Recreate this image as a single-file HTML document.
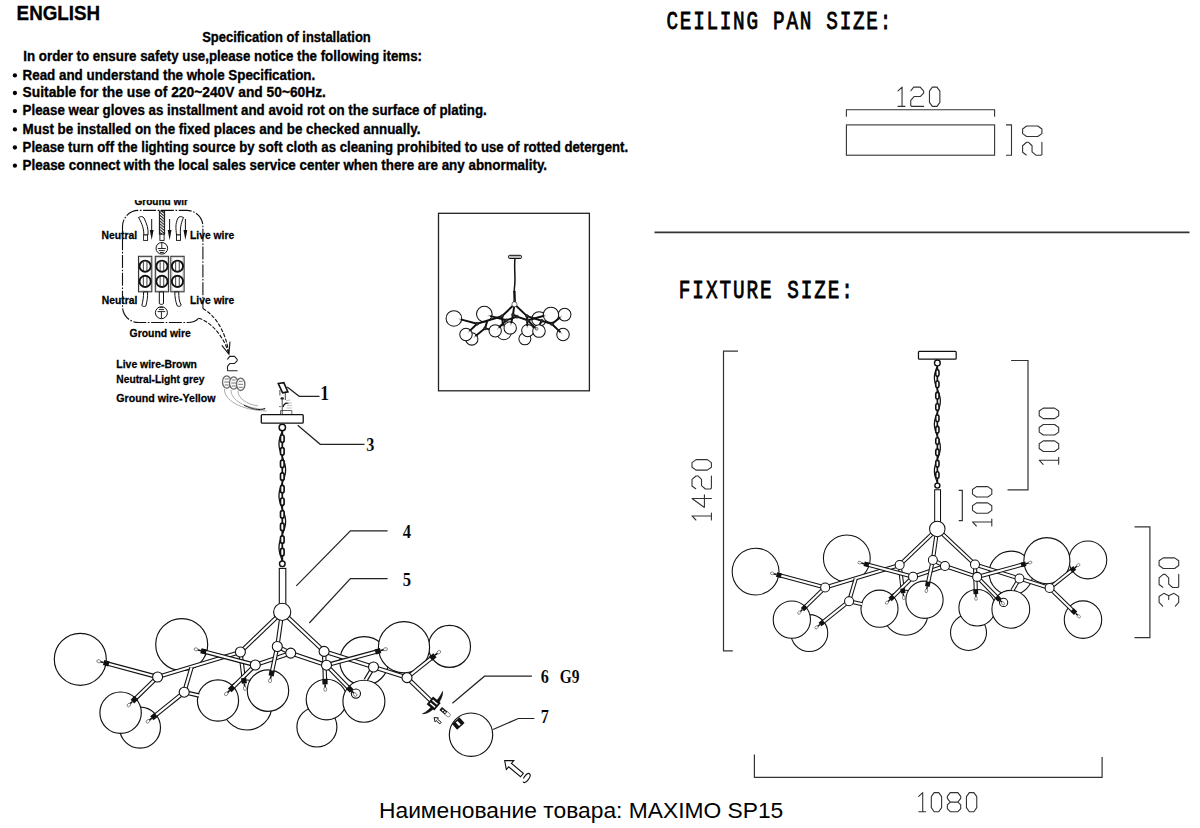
<!DOCTYPE html>
<html><head><meta charset="utf-8"><style>
html,body{margin:0;padding:0;background:#fff;width:1200px;height:828px;overflow:hidden;position:relative}
text{font-family:"Liberation Sans",sans-serif}
</style></head><body>

<svg width="1200" height="828" viewBox="0 0 1200 828" style="position:absolute;left:0;top:0">
<g transform="">
<circle cx="247" cy="705" r="25" fill="#fff" stroke="#111" stroke-width="1.15"/>
<circle cx="364.2" cy="661" r="24.4" fill="#fff" stroke="#111" stroke-width="1.15"/>
<circle cx="140" cy="727.6" r="20.5" fill="#fff" stroke="#111" stroke-width="1.15"/>
<circle cx="316.9" cy="727" r="20" fill="#fff" stroke="#111" stroke-width="1.15"/>
<circle cx="449.5" cy="646.4" r="21" fill="#fff" stroke="#111" stroke-width="1.15"/>
<circle cx="80.3" cy="659.3" r="26" fill="#fff" stroke="#111" stroke-width="1.15"/>
<circle cx="181.7" cy="644.6" r="26" fill="#fff" stroke="#111" stroke-width="1.15"/>
<circle cx="120.6" cy="712.7" r="20.7" fill="#fff" stroke="#111" stroke-width="1.15"/>
<circle cx="218" cy="700.5" r="20.6" fill="#fff" stroke="#111" stroke-width="1.15"/>
<circle cx="268" cy="690.6" r="20.7" fill="#fff" stroke="#111" stroke-width="1.15"/>
<circle cx="404" cy="647.2" r="25.6" fill="#fff" stroke="#111" stroke-width="1.15"/>
<circle cx="326.5" cy="699.5" r="20.3" fill="#fff" stroke="#111" stroke-width="1.15"/>
<circle cx="363.9" cy="701.2" r="21" fill="#fff" stroke="#111" stroke-width="1.15"/>
<line x1="282.2" y1="611.9" x2="240.4" y2="652" stroke="#111" stroke-width="4.4"/>
<line x1="282.2" y1="611.9" x2="240.4" y2="652" stroke="#fff" stroke-width="2.2"/>
<line x1="282.2" y1="611.9" x2="277.3" y2="646.5" stroke="#111" stroke-width="4.4"/>
<line x1="282.2" y1="611.9" x2="277.3" y2="646.5" stroke="#fff" stroke-width="2.2"/>
<line x1="282.2" y1="611.9" x2="324.1" y2="651.4" stroke="#111" stroke-width="4.4"/>
<line x1="282.2" y1="611.9" x2="324.1" y2="651.4" stroke="#fff" stroke-width="2.2"/>
<line x1="240.4" y1="652" x2="157.6" y2="677" stroke="#111" stroke-width="4.4"/>
<line x1="240.4" y1="652" x2="157.6" y2="677" stroke="#fff" stroke-width="2.2"/>
<line x1="157.6" y1="677" x2="106" y2="663.2" stroke="#111" stroke-width="4.4"/>
<line x1="157.6" y1="677" x2="106" y2="663.2" stroke="#fff" stroke-width="2.2"/>
<line x1="157.6" y1="677" x2="134.2" y2="699.8" stroke="#111" stroke-width="4.4"/>
<line x1="157.6" y1="677" x2="134.2" y2="699.8" stroke="#fff" stroke-width="2.2"/>
<line x1="191.5" y1="667.5" x2="184.2" y2="692.2" stroke="#111" stroke-width="4.4"/>
<line x1="191.5" y1="667.5" x2="184.2" y2="692.2" stroke="#fff" stroke-width="2.2"/>
<line x1="184.2" y1="692.2" x2="153.8" y2="716.6" stroke="#111" stroke-width="4.4"/>
<line x1="184.2" y1="692.2" x2="153.8" y2="716.6" stroke="#fff" stroke-width="2.2"/>
<line x1="184.2" y1="692.2" x2="199" y2="695.5" stroke="#111" stroke-width="4.4"/>
<line x1="184.2" y1="692.2" x2="199" y2="695.5" stroke="#fff" stroke-width="2.2"/>
<line x1="240.4" y1="652" x2="244" y2="681" stroke="#111" stroke-width="4.4"/>
<line x1="240.4" y1="652" x2="244" y2="681" stroke="#fff" stroke-width="2.2"/>
<line x1="203.3" y1="651.3" x2="255.3" y2="665" stroke="#111" stroke-width="4.4"/>
<line x1="203.3" y1="651.3" x2="255.3" y2="665" stroke="#fff" stroke-width="2.2"/>
<line x1="255.3" y1="665" x2="231.5" y2="688.6" stroke="#111" stroke-width="4.4"/>
<line x1="255.3" y1="665" x2="231.5" y2="688.6" stroke="#fff" stroke-width="2.2"/>
<line x1="255.3" y1="665" x2="290.7" y2="653.1" stroke="#111" stroke-width="4.4"/>
<line x1="255.3" y1="665" x2="290.7" y2="653.1" stroke="#fff" stroke-width="2.2"/>
<line x1="277.3" y1="646.5" x2="290.7" y2="653.1" stroke="#111" stroke-width="4.4"/>
<line x1="277.3" y1="646.5" x2="290.7" y2="653.1" stroke="#fff" stroke-width="2.2"/>
<line x1="277.3" y1="646.5" x2="271.6" y2="673.4" stroke="#111" stroke-width="4.4"/>
<line x1="277.3" y1="646.5" x2="271.6" y2="673.4" stroke="#fff" stroke-width="2.2"/>
<line x1="290.7" y1="653.1" x2="326.5" y2="665.2" stroke="#111" stroke-width="4.4"/>
<line x1="290.7" y1="653.1" x2="326.5" y2="665.2" stroke="#fff" stroke-width="2.2"/>
<line x1="324.1" y1="651.4" x2="407" y2="677.6" stroke="#111" stroke-width="4.4"/>
<line x1="324.1" y1="651.4" x2="407" y2="677.6" stroke="#fff" stroke-width="2.2"/>
<line x1="324.1" y1="651.4" x2="325" y2="681.8" stroke="#111" stroke-width="4.4"/>
<line x1="324.1" y1="651.4" x2="325" y2="681.8" stroke="#fff" stroke-width="2.2"/>
<line x1="326.5" y1="665.2" x2="378.2" y2="651.2" stroke="#111" stroke-width="4.4"/>
<line x1="326.5" y1="665.2" x2="378.2" y2="651.2" stroke="#fff" stroke-width="2.2"/>
<line x1="326.5" y1="665.2" x2="349.9" y2="689.2" stroke="#111" stroke-width="4.4"/>
<line x1="326.5" y1="665.2" x2="349.9" y2="689.2" stroke="#fff" stroke-width="2.2"/>
<line x1="373.5" y1="667" x2="365.7" y2="680" stroke="#111" stroke-width="4.4"/>
<line x1="373.5" y1="667" x2="365.7" y2="680" stroke="#fff" stroke-width="2.2"/>
<line x1="407" y1="677.6" x2="433" y2="656.8" stroke="#111" stroke-width="4.4"/>
<line x1="407" y1="677.6" x2="433" y2="656.8" stroke="#fff" stroke-width="2.2"/>
<line x1="407" y1="677.6" x2="434.1" y2="703.9" stroke="#111" stroke-width="4.4"/>
<line x1="407" y1="677.6" x2="434.1" y2="703.9" stroke="#fff" stroke-width="2.2"/>
<circle cx="157.6" cy="677" r="5" fill="#fff" stroke="#111" stroke-width="1.1"/>
<circle cx="184.2" cy="692.2" r="5" fill="#fff" stroke="#111" stroke-width="1.1"/>
<circle cx="240.4" cy="652" r="5" fill="#fff" stroke="#111" stroke-width="1.1"/>
<circle cx="277.3" cy="646.5" r="5" fill="#fff" stroke="#111" stroke-width="1.1"/>
<circle cx="290.7" cy="653.1" r="5" fill="#fff" stroke="#111" stroke-width="1.1"/>
<circle cx="255.3" cy="665" r="5" fill="#fff" stroke="#111" stroke-width="1.1"/>
<circle cx="324.1" cy="651.4" r="5" fill="#fff" stroke="#111" stroke-width="1.1"/>
<circle cx="326.5" cy="665.2" r="5" fill="#fff" stroke="#111" stroke-width="1.1"/>
<circle cx="373.5" cy="667" r="5" fill="#fff" stroke="#111" stroke-width="1.1"/>
<circle cx="407" cy="677.6" r="5" fill="#fff" stroke="#111" stroke-width="1.1"/>
<g transform="translate(106 663.2) rotate(-165.03)">
<rect x="-3" y="-2.6" width="5.5" height="5.2" fill="#111"/>
<line x1="2.5" y1="0" x2="6" y2="0" stroke="#111" stroke-width="1.6"/>
<ellipse cx="7.5" cy="0" rx="2" ry="1.5" fill="#fff" stroke="#555" stroke-width="0.7"/>
</g>
<g transform="translate(203.3 651.3) rotate(-165.24)">
<rect x="-3" y="-2.6" width="5.5" height="5.2" fill="#111"/>
<line x1="2.5" y1="0" x2="6" y2="0" stroke="#111" stroke-width="1.6"/>
<ellipse cx="7.5" cy="0" rx="2" ry="1.5" fill="#fff" stroke="#555" stroke-width="0.7"/>
</g>
<g transform="translate(134.2 699.8) rotate(135.74)">
<rect x="-3" y="-2.6" width="5.5" height="5.2" fill="#111"/>
<line x1="2.5" y1="0" x2="6" y2="0" stroke="#111" stroke-width="1.6"/>
<ellipse cx="7.5" cy="0" rx="2" ry="1.5" fill="#fff" stroke="#555" stroke-width="0.7"/>
</g>
<g transform="translate(153.8 716.6) rotate(141.25)">
<rect x="-3" y="-2.6" width="5.5" height="5.2" fill="#111"/>
<line x1="2.5" y1="0" x2="6" y2="0" stroke="#111" stroke-width="1.6"/>
<ellipse cx="7.5" cy="0" rx="2" ry="1.5" fill="#fff" stroke="#555" stroke-width="0.7"/>
</g>
<g transform="translate(231.5 688.6) rotate(135.24)">
<rect x="-3" y="-2.6" width="5.5" height="5.2" fill="#111"/>
<line x1="2.5" y1="0" x2="6" y2="0" stroke="#111" stroke-width="1.6"/>
<ellipse cx="7.5" cy="0" rx="2" ry="1.5" fill="#fff" stroke="#555" stroke-width="0.7"/>
</g>
<g transform="translate(244 681) rotate(82.92)">
<rect x="-3" y="-2.6" width="5.5" height="5.2" fill="#111"/>
<line x1="2.5" y1="0" x2="6" y2="0" stroke="#111" stroke-width="1.6"/>
<ellipse cx="7.5" cy="0" rx="2" ry="1.5" fill="#fff" stroke="#555" stroke-width="0.7"/>
</g>
<g transform="translate(271.6 673.4) rotate(101.96)">
<rect x="-3" y="-2.6" width="5.5" height="5.2" fill="#111"/>
<line x1="2.5" y1="0" x2="6" y2="0" stroke="#111" stroke-width="1.6"/>
<ellipse cx="7.5" cy="0" rx="2" ry="1.5" fill="#fff" stroke="#555" stroke-width="0.7"/>
</g>
<g transform="translate(378.2 651.2) rotate(-15.15)">
<rect x="-3" y="-2.6" width="5.5" height="5.2" fill="#111"/>
<line x1="2.5" y1="0" x2="6" y2="0" stroke="#111" stroke-width="1.6"/>
<ellipse cx="7.5" cy="0" rx="2" ry="1.5" fill="#fff" stroke="#555" stroke-width="0.7"/>
</g>
<g transform="translate(433 656.8) rotate(-38.66)">
<rect x="-3" y="-2.6" width="5.5" height="5.2" fill="#111"/>
<line x1="2.5" y1="0" x2="6" y2="0" stroke="#111" stroke-width="1.6"/>
<ellipse cx="7.5" cy="0" rx="2" ry="1.5" fill="#fff" stroke="#555" stroke-width="0.7"/>
</g>
<g transform="translate(325 681.8) rotate(88.3)">
<rect x="-3" y="-2.6" width="5.5" height="5.2" fill="#111"/>
<line x1="2.5" y1="0" x2="6" y2="0" stroke="#111" stroke-width="1.6"/>
<ellipse cx="7.5" cy="0" rx="2" ry="1.5" fill="#fff" stroke="#555" stroke-width="0.7"/>
</g>
<g transform="translate(349.9 689.2) rotate(45.73)">
<rect x="-3" y="-2.6" width="5.5" height="5.2" fill="#111"/>
<line x1="2.5" y1="0" x2="6" y2="0" stroke="#111" stroke-width="1.6"/>
<ellipse cx="7.5" cy="0" rx="2" ry="1.5" fill="#fff" stroke="#555" stroke-width="0.7"/>
</g>
<circle cx="355.9" cy="693.6" r="4.6" fill="none" stroke="#111" stroke-width="1.1"/>
<rect x="279.3" y="568.4" width="6.5" height="36" fill="#fff" stroke="#111" stroke-width="1.1"/>
<circle cx="282.2" cy="611.9" r="8.6" fill="#fff" stroke="#111" stroke-width="1.1"/>
<path d="M282.3 431 L281.66 432.62 L281.04 434.24 L280.47 435.85 L279.97 437.47 L279.56 439.09 L279.25 440.7 L279.06 442.32 L279 443.94 L279.06 445.56 L279.25 447.18 L279.56 448.79 L279.97 450.41 L280.47 452.03 L281.04 453.64 L281.66 455.26 L282.3 456.88 L282.94 458.5 L283.56 460.12 L284.13 461.73 L284.63 463.35 L285.04 464.97 L285.35 466.58 L285.54 468.2 L285.6 469.82 L285.54 471.44 L285.35 473.06 L285.04 474.67 L284.63 476.29 L284.13 477.91 L283.56 479.52 L282.94 481.14 L282.3 482.76 L281.66 484.38 L281.04 486 L280.47 487.61 L279.97 489.23 L279.56 490.85 L279.25 492.46 L279.06 494.08 L279 495.7 L279.06 497.32 L279.25 498.94 L279.56 500.55 L279.97 502.17 L280.47 503.79 L281.04 505.4 L281.66 507.02 L282.3 508.64 L282.94 510.26 L283.56 511.88 L284.13 513.49 L284.63 515.11 L285.04 516.73 L285.35 518.35 L285.54 519.96 L285.6 521.58 L285.54 523.2 L285.35 524.81 L285.04 526.43 L284.63 528.05 L284.13 529.67 L283.56 531.28 L282.94 532.9 L282.3 534.52 L281.66 536.14 L281.04 537.75 L280.47 539.37 L279.97 540.99 L279.56 542.61 L279.25 544.23 L279.06 545.84 L279 547.46 L279.06 549.08 L279.25 550.69 L279.56 552.31 L279.97 553.93 L280.47 555.55 L281.04 557.16 L281.66 558.78 L282.3 560.4" fill="none" stroke="#111" stroke-width="1.3"/>
<line x1="282.3" y1="427" x2="282.3" y2="564.4" stroke="#111" stroke-width="1.74"/>
<circle cx="282.3" cy="427.5" r="3.2" fill="#fff" stroke="#111" stroke-width="1.45"/>
<circle cx="282.3" cy="563.8" r="2.8" fill="#fff" stroke="#111" stroke-width="1.45"/>
<rect x="280.5" y="435" width="3.6" height="7.4" rx="1.8" fill="#fff" stroke="#111" stroke-width="1.67"/>
<rect x="280.5" y="447.6" width="3.6" height="7.4" rx="1.8" fill="#fff" stroke="#111" stroke-width="1.67"/>
<rect x="280.5" y="460.2" width="3.6" height="7.4" rx="1.8" fill="#fff" stroke="#111" stroke-width="1.67"/>
<rect x="280.5" y="472.8" width="3.6" height="7.4" rx="1.8" fill="#fff" stroke="#111" stroke-width="1.67"/>
<rect x="280.5" y="485.4" width="3.6" height="7.4" rx="1.8" fill="#fff" stroke="#111" stroke-width="1.67"/>
<rect x="280.5" y="498" width="3.6" height="7.4" rx="1.8" fill="#fff" stroke="#111" stroke-width="1.67"/>
<rect x="280.5" y="510.6" width="3.6" height="7.4" rx="1.8" fill="#fff" stroke="#111" stroke-width="1.67"/>
<rect x="280.5" y="523.2" width="3.6" height="7.4" rx="1.8" fill="#fff" stroke="#111" stroke-width="1.67"/>
<rect x="280.5" y="535.8" width="3.6" height="7.4" rx="1.8" fill="#fff" stroke="#111" stroke-width="1.67"/>
<rect x="280.5" y="548.4" width="3.6" height="7.4" rx="1.8" fill="#fff" stroke="#111" stroke-width="1.67"/>
<rect x="261.3" y="414.6" width="41.9" height="8.6" rx="1" fill="#fff" stroke="#111" stroke-width="1.32"/>
</g>
<g transform="translate(683.3 -21.8) scale(0.9)">
<circle cx="247" cy="705" r="25" fill="#fff" stroke="#111" stroke-width="1.2"/>
<circle cx="364.2" cy="661" r="24.4" fill="#fff" stroke="#111" stroke-width="1.2"/>
<circle cx="140" cy="727.6" r="20.5" fill="#fff" stroke="#111" stroke-width="1.2"/>
<circle cx="316.9" cy="727" r="20" fill="#fff" stroke="#111" stroke-width="1.2"/>
<circle cx="449.5" cy="646.4" r="21" fill="#fff" stroke="#111" stroke-width="1.2"/>
<circle cx="444.1" cy="712.7" r="20.8" fill="#fff" stroke="#111" stroke-width="1.2"/>
<circle cx="80.3" cy="659.3" r="26" fill="#fff" stroke="#111" stroke-width="1.2"/>
<circle cx="181.7" cy="644.6" r="26" fill="#fff" stroke="#111" stroke-width="1.2"/>
<circle cx="120.6" cy="712.7" r="20.7" fill="#fff" stroke="#111" stroke-width="1.2"/>
<circle cx="218" cy="700.5" r="20.6" fill="#fff" stroke="#111" stroke-width="1.2"/>
<circle cx="268" cy="690.6" r="20.7" fill="#fff" stroke="#111" stroke-width="1.2"/>
<circle cx="404" cy="647.2" r="25.6" fill="#fff" stroke="#111" stroke-width="1.2"/>
<circle cx="326.5" cy="699.5" r="20.3" fill="#fff" stroke="#111" stroke-width="1.2"/>
<circle cx="363.9" cy="701.2" r="21" fill="#fff" stroke="#111" stroke-width="1.2"/>
<line x1="282.2" y1="611.9" x2="240.4" y2="652" stroke="#111" stroke-width="4.6"/>
<line x1="282.2" y1="611.9" x2="240.4" y2="652" stroke="#fff" stroke-width="2.3"/>
<line x1="282.2" y1="611.9" x2="277.3" y2="646.5" stroke="#111" stroke-width="4.6"/>
<line x1="282.2" y1="611.9" x2="277.3" y2="646.5" stroke="#fff" stroke-width="2.3"/>
<line x1="282.2" y1="611.9" x2="324.1" y2="651.4" stroke="#111" stroke-width="4.6"/>
<line x1="282.2" y1="611.9" x2="324.1" y2="651.4" stroke="#fff" stroke-width="2.3"/>
<line x1="240.4" y1="652" x2="157.6" y2="677" stroke="#111" stroke-width="4.6"/>
<line x1="240.4" y1="652" x2="157.6" y2="677" stroke="#fff" stroke-width="2.3"/>
<line x1="157.6" y1="677" x2="106" y2="663.2" stroke="#111" stroke-width="4.6"/>
<line x1="157.6" y1="677" x2="106" y2="663.2" stroke="#fff" stroke-width="2.3"/>
<line x1="157.6" y1="677" x2="134.2" y2="699.8" stroke="#111" stroke-width="4.6"/>
<line x1="157.6" y1="677" x2="134.2" y2="699.8" stroke="#fff" stroke-width="2.3"/>
<line x1="191.5" y1="667.5" x2="184.2" y2="692.2" stroke="#111" stroke-width="4.6"/>
<line x1="191.5" y1="667.5" x2="184.2" y2="692.2" stroke="#fff" stroke-width="2.3"/>
<line x1="184.2" y1="692.2" x2="153.8" y2="716.6" stroke="#111" stroke-width="4.6"/>
<line x1="184.2" y1="692.2" x2="153.8" y2="716.6" stroke="#fff" stroke-width="2.3"/>
<line x1="184.2" y1="692.2" x2="199" y2="695.5" stroke="#111" stroke-width="4.6"/>
<line x1="184.2" y1="692.2" x2="199" y2="695.5" stroke="#fff" stroke-width="2.3"/>
<line x1="240.4" y1="652" x2="244" y2="681" stroke="#111" stroke-width="4.6"/>
<line x1="240.4" y1="652" x2="244" y2="681" stroke="#fff" stroke-width="2.3"/>
<line x1="203.3" y1="651.3" x2="255.3" y2="665" stroke="#111" stroke-width="4.6"/>
<line x1="203.3" y1="651.3" x2="255.3" y2="665" stroke="#fff" stroke-width="2.3"/>
<line x1="255.3" y1="665" x2="231.5" y2="688.6" stroke="#111" stroke-width="4.6"/>
<line x1="255.3" y1="665" x2="231.5" y2="688.6" stroke="#fff" stroke-width="2.3"/>
<line x1="255.3" y1="665" x2="290.7" y2="653.1" stroke="#111" stroke-width="4.6"/>
<line x1="255.3" y1="665" x2="290.7" y2="653.1" stroke="#fff" stroke-width="2.3"/>
<line x1="277.3" y1="646.5" x2="290.7" y2="653.1" stroke="#111" stroke-width="4.6"/>
<line x1="277.3" y1="646.5" x2="290.7" y2="653.1" stroke="#fff" stroke-width="2.3"/>
<line x1="277.3" y1="646.5" x2="271.6" y2="673.4" stroke="#111" stroke-width="4.6"/>
<line x1="277.3" y1="646.5" x2="271.6" y2="673.4" stroke="#fff" stroke-width="2.3"/>
<line x1="290.7" y1="653.1" x2="326.5" y2="665.2" stroke="#111" stroke-width="4.6"/>
<line x1="290.7" y1="653.1" x2="326.5" y2="665.2" stroke="#fff" stroke-width="2.3"/>
<line x1="324.1" y1="651.4" x2="407" y2="677.6" stroke="#111" stroke-width="4.6"/>
<line x1="324.1" y1="651.4" x2="407" y2="677.6" stroke="#fff" stroke-width="2.3"/>
<line x1="324.1" y1="651.4" x2="325" y2="681.8" stroke="#111" stroke-width="4.6"/>
<line x1="324.1" y1="651.4" x2="325" y2="681.8" stroke="#fff" stroke-width="2.3"/>
<line x1="326.5" y1="665.2" x2="378.2" y2="651.2" stroke="#111" stroke-width="4.6"/>
<line x1="326.5" y1="665.2" x2="378.2" y2="651.2" stroke="#fff" stroke-width="2.3"/>
<line x1="326.5" y1="665.2" x2="349.9" y2="689.2" stroke="#111" stroke-width="4.6"/>
<line x1="326.5" y1="665.2" x2="349.9" y2="689.2" stroke="#fff" stroke-width="2.3"/>
<line x1="373.5" y1="667" x2="365.7" y2="680" stroke="#111" stroke-width="4.6"/>
<line x1="373.5" y1="667" x2="365.7" y2="680" stroke="#fff" stroke-width="2.3"/>
<line x1="407" y1="677.6" x2="433" y2="656.8" stroke="#111" stroke-width="4.6"/>
<line x1="407" y1="677.6" x2="433" y2="656.8" stroke="#fff" stroke-width="2.3"/>
<line x1="407" y1="677.6" x2="434.1" y2="703.9" stroke="#111" stroke-width="4.6"/>
<line x1="407" y1="677.6" x2="434.1" y2="703.9" stroke="#fff" stroke-width="2.3"/>
<circle cx="157.6" cy="677" r="5" fill="#fff" stroke="#111" stroke-width="1.15"/>
<circle cx="184.2" cy="692.2" r="5" fill="#fff" stroke="#111" stroke-width="1.15"/>
<circle cx="240.4" cy="652" r="5" fill="#fff" stroke="#111" stroke-width="1.15"/>
<circle cx="277.3" cy="646.5" r="5" fill="#fff" stroke="#111" stroke-width="1.15"/>
<circle cx="290.7" cy="653.1" r="5" fill="#fff" stroke="#111" stroke-width="1.15"/>
<circle cx="255.3" cy="665" r="5" fill="#fff" stroke="#111" stroke-width="1.15"/>
<circle cx="324.1" cy="651.4" r="5" fill="#fff" stroke="#111" stroke-width="1.15"/>
<circle cx="326.5" cy="665.2" r="5" fill="#fff" stroke="#111" stroke-width="1.15"/>
<circle cx="373.5" cy="667" r="5" fill="#fff" stroke="#111" stroke-width="1.15"/>
<circle cx="407" cy="677.6" r="5" fill="#fff" stroke="#111" stroke-width="1.15"/>
<g transform="translate(106 663.2) rotate(-165.03)">
<rect x="-3" y="-2.6" width="5.5" height="5.2" fill="#111"/>
<line x1="2.5" y1="0" x2="6" y2="0" stroke="#111" stroke-width="1.6"/>
<ellipse cx="7.5" cy="0" rx="2" ry="1.5" fill="#fff" stroke="#555" stroke-width="0.7"/>
</g>
<g transform="translate(203.3 651.3) rotate(-165.24)">
<rect x="-3" y="-2.6" width="5.5" height="5.2" fill="#111"/>
<line x1="2.5" y1="0" x2="6" y2="0" stroke="#111" stroke-width="1.6"/>
<ellipse cx="7.5" cy="0" rx="2" ry="1.5" fill="#fff" stroke="#555" stroke-width="0.7"/>
</g>
<g transform="translate(134.2 699.8) rotate(135.74)">
<rect x="-3" y="-2.6" width="5.5" height="5.2" fill="#111"/>
<line x1="2.5" y1="0" x2="6" y2="0" stroke="#111" stroke-width="1.6"/>
<ellipse cx="7.5" cy="0" rx="2" ry="1.5" fill="#fff" stroke="#555" stroke-width="0.7"/>
</g>
<g transform="translate(153.8 716.6) rotate(141.25)">
<rect x="-3" y="-2.6" width="5.5" height="5.2" fill="#111"/>
<line x1="2.5" y1="0" x2="6" y2="0" stroke="#111" stroke-width="1.6"/>
<ellipse cx="7.5" cy="0" rx="2" ry="1.5" fill="#fff" stroke="#555" stroke-width="0.7"/>
</g>
<g transform="translate(231.5 688.6) rotate(135.24)">
<rect x="-3" y="-2.6" width="5.5" height="5.2" fill="#111"/>
<line x1="2.5" y1="0" x2="6" y2="0" stroke="#111" stroke-width="1.6"/>
<ellipse cx="7.5" cy="0" rx="2" ry="1.5" fill="#fff" stroke="#555" stroke-width="0.7"/>
</g>
<g transform="translate(244 681) rotate(82.92)">
<rect x="-3" y="-2.6" width="5.5" height="5.2" fill="#111"/>
<line x1="2.5" y1="0" x2="6" y2="0" stroke="#111" stroke-width="1.6"/>
<ellipse cx="7.5" cy="0" rx="2" ry="1.5" fill="#fff" stroke="#555" stroke-width="0.7"/>
</g>
<g transform="translate(271.6 673.4) rotate(101.96)">
<rect x="-3" y="-2.6" width="5.5" height="5.2" fill="#111"/>
<line x1="2.5" y1="0" x2="6" y2="0" stroke="#111" stroke-width="1.6"/>
<ellipse cx="7.5" cy="0" rx="2" ry="1.5" fill="#fff" stroke="#555" stroke-width="0.7"/>
</g>
<g transform="translate(378.2 651.2) rotate(-15.15)">
<rect x="-3" y="-2.6" width="5.5" height="5.2" fill="#111"/>
<line x1="2.5" y1="0" x2="6" y2="0" stroke="#111" stroke-width="1.6"/>
<ellipse cx="7.5" cy="0" rx="2" ry="1.5" fill="#fff" stroke="#555" stroke-width="0.7"/>
</g>
<g transform="translate(433 656.8) rotate(-38.66)">
<rect x="-3" y="-2.6" width="5.5" height="5.2" fill="#111"/>
<line x1="2.5" y1="0" x2="6" y2="0" stroke="#111" stroke-width="1.6"/>
<ellipse cx="7.5" cy="0" rx="2" ry="1.5" fill="#fff" stroke="#555" stroke-width="0.7"/>
</g>
<g transform="translate(325 681.8) rotate(88.3)">
<rect x="-3" y="-2.6" width="5.5" height="5.2" fill="#111"/>
<line x1="2.5" y1="0" x2="6" y2="0" stroke="#111" stroke-width="1.6"/>
<ellipse cx="7.5" cy="0" rx="2" ry="1.5" fill="#fff" stroke="#555" stroke-width="0.7"/>
</g>
<g transform="translate(349.9 689.2) rotate(45.73)">
<rect x="-3" y="-2.6" width="5.5" height="5.2" fill="#111"/>
<line x1="2.5" y1="0" x2="6" y2="0" stroke="#111" stroke-width="1.6"/>
<ellipse cx="7.5" cy="0" rx="2" ry="1.5" fill="#fff" stroke="#555" stroke-width="0.7"/>
</g>
<g transform="translate(434.1 703.9) rotate(44.14)">
<rect x="-3" y="-2.6" width="5.5" height="5.2" fill="#111"/>
<line x1="2.5" y1="0" x2="6" y2="0" stroke="#111" stroke-width="1.6"/>
<ellipse cx="7.5" cy="0" rx="2" ry="1.5" fill="#fff" stroke="#555" stroke-width="0.7"/>
</g>
<circle cx="355.9" cy="693.6" r="4.6" fill="none" stroke="#111" stroke-width="1.15"/>
<rect x="279.3" y="568.4" width="6.5" height="36" fill="#fff" stroke="#111" stroke-width="1.15"/>
<circle cx="282.2" cy="611.9" r="8.6" fill="#fff" stroke="#111" stroke-width="1.15"/>
<path d="M282.3 431 L281.66 432.62 L281.04 434.24 L280.47 435.85 L279.97 437.47 L279.56 439.09 L279.25 440.7 L279.06 442.32 L279 443.94 L279.06 445.56 L279.25 447.18 L279.56 448.79 L279.97 450.41 L280.47 452.03 L281.04 453.64 L281.66 455.26 L282.3 456.88 L282.94 458.5 L283.56 460.12 L284.13 461.73 L284.63 463.35 L285.04 464.97 L285.35 466.58 L285.54 468.2 L285.6 469.82 L285.54 471.44 L285.35 473.06 L285.04 474.67 L284.63 476.29 L284.13 477.91 L283.56 479.52 L282.94 481.14 L282.3 482.76 L281.66 484.38 L281.04 486 L280.47 487.61 L279.97 489.23 L279.56 490.85 L279.25 492.46 L279.06 494.08 L279 495.7 L279.06 497.32 L279.25 498.94 L279.56 500.55 L279.97 502.17 L280.47 503.79 L281.04 505.4 L281.66 507.02 L282.3 508.64 L282.94 510.26 L283.56 511.88 L284.13 513.49 L284.63 515.11 L285.04 516.73 L285.35 518.35 L285.54 519.96 L285.6 521.58 L285.54 523.2 L285.35 524.81 L285.04 526.43 L284.63 528.05 L284.13 529.67 L283.56 531.28 L282.94 532.9 L282.3 534.52 L281.66 536.14 L281.04 537.75 L280.47 539.37 L279.97 540.99 L279.56 542.61 L279.25 544.23 L279.06 545.84 L279 547.46 L279.06 549.08 L279.25 550.69 L279.56 552.31 L279.97 553.93 L280.47 555.55 L281.04 557.16 L281.66 558.78 L282.3 560.4" fill="none" stroke="#111" stroke-width="1.4"/>
<line x1="282.3" y1="427" x2="282.3" y2="564.4" stroke="#111" stroke-width="1.86"/>
<circle cx="282.3" cy="427.5" r="3.2" fill="#fff" stroke="#111" stroke-width="1.55"/>
<circle cx="282.3" cy="563.8" r="2.8" fill="#fff" stroke="#111" stroke-width="1.55"/>
<rect x="280.5" y="435" width="3.6" height="7.4" rx="1.8" fill="#fff" stroke="#111" stroke-width="1.78"/>
<rect x="280.5" y="447.6" width="3.6" height="7.4" rx="1.8" fill="#fff" stroke="#111" stroke-width="1.78"/>
<rect x="280.5" y="460.2" width="3.6" height="7.4" rx="1.8" fill="#fff" stroke="#111" stroke-width="1.78"/>
<rect x="280.5" y="472.8" width="3.6" height="7.4" rx="1.8" fill="#fff" stroke="#111" stroke-width="1.78"/>
<rect x="280.5" y="485.4" width="3.6" height="7.4" rx="1.8" fill="#fff" stroke="#111" stroke-width="1.78"/>
<rect x="280.5" y="498" width="3.6" height="7.4" rx="1.8" fill="#fff" stroke="#111" stroke-width="1.78"/>
<rect x="280.5" y="510.6" width="3.6" height="7.4" rx="1.8" fill="#fff" stroke="#111" stroke-width="1.78"/>
<rect x="280.5" y="523.2" width="3.6" height="7.4" rx="1.8" fill="#fff" stroke="#111" stroke-width="1.78"/>
<rect x="280.5" y="535.8" width="3.6" height="7.4" rx="1.8" fill="#fff" stroke="#111" stroke-width="1.78"/>
<rect x="280.5" y="548.4" width="3.6" height="7.4" rx="1.8" fill="#fff" stroke="#111" stroke-width="1.78"/>
<rect x="261.3" y="414.6" width="41.9" height="8.6" rx="1" fill="#fff" stroke="#111" stroke-width="1.38"/>
</g>
<g transform="translate(429.8 120.7) scale(0.3)"><g transform="">
<circle cx="247" cy="705" r="25" fill="#fff" stroke="#111" stroke-width="3.4"/>
<circle cx="364.2" cy="661" r="24.4" fill="#fff" stroke="#111" stroke-width="3.4"/>
<circle cx="140" cy="727.6" r="20.5" fill="#fff" stroke="#111" stroke-width="3.4"/>
<circle cx="316.9" cy="727" r="20" fill="#fff" stroke="#111" stroke-width="3.4"/>
<circle cx="449.5" cy="646.4" r="21" fill="#fff" stroke="#111" stroke-width="3.4"/>
<circle cx="444.1" cy="712.7" r="20.8" fill="#fff" stroke="#111" stroke-width="3.4"/>
<circle cx="80.3" cy="659.3" r="26" fill="#fff" stroke="#111" stroke-width="3.4"/>
<circle cx="181.7" cy="644.6" r="26" fill="#fff" stroke="#111" stroke-width="3.4"/>
<circle cx="120.6" cy="712.7" r="20.7" fill="#fff" stroke="#111" stroke-width="3.4"/>
<circle cx="218" cy="700.5" r="20.6" fill="#fff" stroke="#111" stroke-width="3.4"/>
<circle cx="268" cy="690.6" r="20.7" fill="#fff" stroke="#111" stroke-width="3.4"/>
<circle cx="404" cy="647.2" r="25.6" fill="#fff" stroke="#111" stroke-width="3.4"/>
<circle cx="326.5" cy="699.5" r="20.3" fill="#fff" stroke="#111" stroke-width="3.4"/>
<circle cx="363.9" cy="701.2" r="21" fill="#fff" stroke="#111" stroke-width="3.4"/>
<line x1="282.2" y1="611.9" x2="240.4" y2="652" stroke="#111" stroke-width="6.5"/>
<line x1="282.2" y1="611.9" x2="277.3" y2="646.5" stroke="#111" stroke-width="6.5"/>
<line x1="282.2" y1="611.9" x2="324.1" y2="651.4" stroke="#111" stroke-width="6.5"/>
<line x1="240.4" y1="652" x2="157.6" y2="677" stroke="#111" stroke-width="6.5"/>
<line x1="157.6" y1="677" x2="106" y2="663.2" stroke="#111" stroke-width="6.5"/>
<line x1="157.6" y1="677" x2="134.2" y2="699.8" stroke="#111" stroke-width="6.5"/>
<line x1="191.5" y1="667.5" x2="184.2" y2="692.2" stroke="#111" stroke-width="6.5"/>
<line x1="184.2" y1="692.2" x2="153.8" y2="716.6" stroke="#111" stroke-width="6.5"/>
<line x1="184.2" y1="692.2" x2="199" y2="695.5" stroke="#111" stroke-width="6.5"/>
<line x1="240.4" y1="652" x2="244" y2="681" stroke="#111" stroke-width="6.5"/>
<line x1="203.3" y1="651.3" x2="255.3" y2="665" stroke="#111" stroke-width="6.5"/>
<line x1="255.3" y1="665" x2="231.5" y2="688.6" stroke="#111" stroke-width="6.5"/>
<line x1="255.3" y1="665" x2="290.7" y2="653.1" stroke="#111" stroke-width="6.5"/>
<line x1="277.3" y1="646.5" x2="290.7" y2="653.1" stroke="#111" stroke-width="6.5"/>
<line x1="277.3" y1="646.5" x2="271.6" y2="673.4" stroke="#111" stroke-width="6.5"/>
<line x1="290.7" y1="653.1" x2="326.5" y2="665.2" stroke="#111" stroke-width="6.5"/>
<line x1="324.1" y1="651.4" x2="407" y2="677.6" stroke="#111" stroke-width="6.5"/>
<line x1="324.1" y1="651.4" x2="325" y2="681.8" stroke="#111" stroke-width="6.5"/>
<line x1="326.5" y1="665.2" x2="378.2" y2="651.2" stroke="#111" stroke-width="6.5"/>
<line x1="326.5" y1="665.2" x2="349.9" y2="689.2" stroke="#111" stroke-width="6.5"/>
<line x1="373.5" y1="667" x2="365.7" y2="680" stroke="#111" stroke-width="6.5"/>
<line x1="407" y1="677.6" x2="433" y2="656.8" stroke="#111" stroke-width="6.5"/>
<line x1="407" y1="677.6" x2="434.1" y2="703.9" stroke="#111" stroke-width="6.5"/>
<circle cx="157.6" cy="677" r="5" fill="#333" stroke="#111" stroke-width="2"/>
<circle cx="184.2" cy="692.2" r="5" fill="#333" stroke="#111" stroke-width="2"/>
<circle cx="240.4" cy="652" r="5" fill="#333" stroke="#111" stroke-width="2"/>
<circle cx="277.3" cy="646.5" r="5" fill="#333" stroke="#111" stroke-width="2"/>
<circle cx="290.7" cy="653.1" r="5" fill="#333" stroke="#111" stroke-width="2"/>
<circle cx="255.3" cy="665" r="5" fill="#333" stroke="#111" stroke-width="2"/>
<circle cx="324.1" cy="651.4" r="5" fill="#333" stroke="#111" stroke-width="2"/>
<circle cx="326.5" cy="665.2" r="5" fill="#333" stroke="#111" stroke-width="2"/>
<circle cx="373.5" cy="667" r="5" fill="#333" stroke="#111" stroke-width="2"/>
<circle cx="407" cy="677.6" r="5" fill="#333" stroke="#111" stroke-width="2"/>
<g transform="translate(106 663.2) rotate(-165.03)">
<rect x="-3" y="-2.6" width="5.5" height="5.2" fill="#111"/>
<line x1="2.5" y1="0" x2="6" y2="0" stroke="#111" stroke-width="1.6"/>
<ellipse cx="7.5" cy="0" rx="2" ry="1.5" fill="#fff" stroke="#555" stroke-width="0.7"/>
</g>
<g transform="translate(203.3 651.3) rotate(-165.24)">
<rect x="-3" y="-2.6" width="5.5" height="5.2" fill="#111"/>
<line x1="2.5" y1="0" x2="6" y2="0" stroke="#111" stroke-width="1.6"/>
<ellipse cx="7.5" cy="0" rx="2" ry="1.5" fill="#fff" stroke="#555" stroke-width="0.7"/>
</g>
<g transform="translate(134.2 699.8) rotate(135.74)">
<rect x="-3" y="-2.6" width="5.5" height="5.2" fill="#111"/>
<line x1="2.5" y1="0" x2="6" y2="0" stroke="#111" stroke-width="1.6"/>
<ellipse cx="7.5" cy="0" rx="2" ry="1.5" fill="#fff" stroke="#555" stroke-width="0.7"/>
</g>
<g transform="translate(153.8 716.6) rotate(141.25)">
<rect x="-3" y="-2.6" width="5.5" height="5.2" fill="#111"/>
<line x1="2.5" y1="0" x2="6" y2="0" stroke="#111" stroke-width="1.6"/>
<ellipse cx="7.5" cy="0" rx="2" ry="1.5" fill="#fff" stroke="#555" stroke-width="0.7"/>
</g>
<g transform="translate(231.5 688.6) rotate(135.24)">
<rect x="-3" y="-2.6" width="5.5" height="5.2" fill="#111"/>
<line x1="2.5" y1="0" x2="6" y2="0" stroke="#111" stroke-width="1.6"/>
<ellipse cx="7.5" cy="0" rx="2" ry="1.5" fill="#fff" stroke="#555" stroke-width="0.7"/>
</g>
<g transform="translate(244 681) rotate(82.92)">
<rect x="-3" y="-2.6" width="5.5" height="5.2" fill="#111"/>
<line x1="2.5" y1="0" x2="6" y2="0" stroke="#111" stroke-width="1.6"/>
<ellipse cx="7.5" cy="0" rx="2" ry="1.5" fill="#fff" stroke="#555" stroke-width="0.7"/>
</g>
<g transform="translate(271.6 673.4) rotate(101.96)">
<rect x="-3" y="-2.6" width="5.5" height="5.2" fill="#111"/>
<line x1="2.5" y1="0" x2="6" y2="0" stroke="#111" stroke-width="1.6"/>
<ellipse cx="7.5" cy="0" rx="2" ry="1.5" fill="#fff" stroke="#555" stroke-width="0.7"/>
</g>
<g transform="translate(378.2 651.2) rotate(-15.15)">
<rect x="-3" y="-2.6" width="5.5" height="5.2" fill="#111"/>
<line x1="2.5" y1="0" x2="6" y2="0" stroke="#111" stroke-width="1.6"/>
<ellipse cx="7.5" cy="0" rx="2" ry="1.5" fill="#fff" stroke="#555" stroke-width="0.7"/>
</g>
<g transform="translate(433 656.8) rotate(-38.66)">
<rect x="-3" y="-2.6" width="5.5" height="5.2" fill="#111"/>
<line x1="2.5" y1="0" x2="6" y2="0" stroke="#111" stroke-width="1.6"/>
<ellipse cx="7.5" cy="0" rx="2" ry="1.5" fill="#fff" stroke="#555" stroke-width="0.7"/>
</g>
<g transform="translate(325 681.8) rotate(88.3)">
<rect x="-3" y="-2.6" width="5.5" height="5.2" fill="#111"/>
<line x1="2.5" y1="0" x2="6" y2="0" stroke="#111" stroke-width="1.6"/>
<ellipse cx="7.5" cy="0" rx="2" ry="1.5" fill="#fff" stroke="#555" stroke-width="0.7"/>
</g>
<g transform="translate(349.9 689.2) rotate(45.73)">
<rect x="-3" y="-2.6" width="5.5" height="5.2" fill="#111"/>
<line x1="2.5" y1="0" x2="6" y2="0" stroke="#111" stroke-width="1.6"/>
<ellipse cx="7.5" cy="0" rx="2" ry="1.5" fill="#fff" stroke="#555" stroke-width="0.7"/>
</g>
<g transform="translate(434.1 703.9) rotate(44.14)">
<rect x="-3" y="-2.6" width="5.5" height="5.2" fill="#111"/>
<line x1="2.5" y1="0" x2="6" y2="0" stroke="#111" stroke-width="1.6"/>
<ellipse cx="7.5" cy="0" rx="2" ry="1.5" fill="#fff" stroke="#555" stroke-width="0.7"/>
</g>
<circle cx="355.9" cy="693.6" r="4.6" fill="none" stroke="#111" stroke-width="2"/>
<rect x="279.3" y="568.4" width="6.5" height="36" fill="#fff" stroke="#111" stroke-width="2"/>
<circle cx="282.2" cy="611.9" r="8.6" fill="#fff" stroke="#111" stroke-width="2"/>
</g></g>
<text transform="translate(16.6 20) scale(1 1.06)" font-size="18.8" font-weight="bold" stroke="#000" stroke-width="0.3" >ENGLISH</text>
<text transform="translate(202.2 41.7) scale(1 1.12)" font-size="13.1" font-weight="bold" stroke="#000" stroke-width="0.3" textLength="168.6" lengthAdjust="spacingAndGlyphs" >Specification of installation</text>
<text transform="translate(23.3 60.7) scale(1 1.12)" font-size="13.2" font-weight="bold" stroke="#000" stroke-width="0.3" textLength="398.7" lengthAdjust="spacingAndGlyphs" >In order to ensure safety use,please notice the following items:</text>
<circle cx="14.9" cy="75.4" r="2.15" fill="#000"/>
<text transform="translate(22.6 79.6) scale(1 1.12)" font-size="13.2" font-weight="bold" stroke="#000" stroke-width="0.3" textLength="292.6" lengthAdjust="spacingAndGlyphs" >Read and understand the whole Specification.</text>
<circle cx="14.9" cy="93" r="2.15" fill="#000"/>
<text transform="translate(22.6 97.2) scale(1 1.12)" font-size="13.2" font-weight="bold" stroke="#000" stroke-width="0.3" textLength="303.35" lengthAdjust="spacingAndGlyphs" >Suitable for the use of 220~240V and 50~60Hz.</text>
<circle cx="14.9" cy="111.1" r="2.15" fill="#000"/>
<text transform="translate(22.6 115.3) scale(1 1.12)" font-size="13.2" font-weight="bold" stroke="#000" stroke-width="0.3" textLength="464.2" lengthAdjust="spacingAndGlyphs" >Please wear gloves as installment and avoid rot on the surface of plating.</text>
<circle cx="14.9" cy="129.4" r="2.15" fill="#000"/>
<text transform="translate(22.6 133.6) scale(1 1.12)" font-size="13.2" font-weight="bold" stroke="#000" stroke-width="0.3" textLength="397.8" lengthAdjust="spacingAndGlyphs" >Must be installed on the fixed places and be checked annually.</text>
<circle cx="14.9" cy="147.5" r="2.15" fill="#000"/>
<text transform="translate(22.6 151.7) scale(1 1.12)" font-size="13.2" font-weight="bold" stroke="#000" stroke-width="0.3" textLength="605.5" lengthAdjust="spacingAndGlyphs" >Please turn off the lighting source by soft cloth as cleaning prohibited to use of rotted detergent.</text>
<circle cx="14.9" cy="165.7" r="2.15" fill="#000"/>
<text transform="translate(22.6 169.9) scale(1 1.12)" font-size="13.2" font-weight="bold" stroke="#000" stroke-width="0.3" textLength="524.5" lengthAdjust="spacingAndGlyphs" >Please connect with the local sales service center when there are any abnormality.</text>
<text x="379" y="817.5" font-size="22.9" textLength="404.3" lengthAdjust="spacingAndGlyphs">Наименование товара: MAXIMO SP15</text>
<text transform="translate(666.5 29.3) scale(0.88 1.18)" font-family="Liberation Mono" font-size="22" letter-spacing="1.95" stroke="#000" stroke-width="0.7" style="font-family:'Liberation Mono'">CEILING PAN SIZE:</text>
<text transform="translate(678.8 297.8) scale(0.88 1.18)" font-family="Liberation Mono" font-size="22" letter-spacing="2.2" stroke="#000" stroke-width="0.7" style="font-family:'Liberation Mono'">FIXTURE SIZE:</text>
<line x1="654.5" y1="232.4" x2="1189.5" y2="232.3" stroke="#333" stroke-width="1.7"/>
<rect x="846.4" y="124.9" width="148.2" height="30.3" fill="none" stroke="#333" stroke-width="1.1"/>
<path d="M846.4 116.7 V109.7 H994.6 V116.7" fill="none" stroke="#333" stroke-width="1.1"/>
<path d="M1006 124.9 H1011.5 V155.2 H1006" fill="none" stroke="#333" stroke-width="1.1"/>
<path d="M898 90.96 L902.05 87.1 L902.05 106.4 M898 106.4 L904.95 106.4 M910.93 90.77 L913.63 87.1 L920.2 87.1 L923.67 91.15 L923.67 93.08 L920.2 96.56 L914.02 96.56 L910.74 100.42 L910.74 105.44 L911.51 106.4 L923.67 106.4 M929.46 91.15 L932.35 87.1 L936.99 87.1 L939.88 91.15 L939.88 102.35 L936.99 106.4 L932.35 106.4 L929.46 102.35 L929.46 91.15" fill="none" stroke="#333" stroke-width="1.1" stroke-linejoin="round" stroke-linecap="round"/>
<path d="M1026.27 155.01 L1022.6 152.3 L1022.6 145.74 L1026.65 142.27 L1028.58 142.27 L1032.06 145.74 L1032.06 151.92 L1035.92 155.2 L1040.93 155.2 L1041.9 154.43 L1041.9 142.27 M1026.65 136.48 L1022.6 133.58 L1022.6 128.95 L1026.65 126.06 L1037.85 126.06 L1041.9 128.95 L1041.9 133.58 L1037.85 136.48 L1026.65 136.48" fill="none" stroke="#333" stroke-width="1.1" stroke-linejoin="round" stroke-linecap="round"/>
<path d="M738 351.1 H723.5 V650.8 H732.8" fill="none" stroke="#333" stroke-width="1.2"/>
<path d="M695.88 520 L692 515.93 L711.4 515.93 M711.4 520 L711.4 513.02 M711.4 498.47 L692 498.47 L704.03 507.2 L704.42 507.2 L704.42 494.78 M695.69 488.77 L692 486.05 L692 479.45 L696.07 475.96 L698.01 475.96 L701.51 479.45 L701.51 485.66 L705.39 488.96 L710.43 488.96 L711.4 488.18 L711.4 475.96 M696.07 470.14 L692 467.23 L692 462.58 L696.07 459.67 L707.33 459.67 L711.4 462.58 L711.4 467.23 L707.33 470.14 L696.07 470.14" fill="none" stroke="#333" stroke-width="1.1" stroke-linejoin="round" stroke-linecap="round"/>
<path d="M1011.1 360.5 H1028 V489.8 H1007.5" fill="none" stroke="#333" stroke-width="1.2"/>
<path d="M1043.1 464.3 L1039.2 460.2 L1058.7 460.2 M1058.7 464.3 L1058.7 457.28 M1043.3 451.43 L1039.2 448.5 L1039.2 443.82 L1043.3 440.9 L1054.61 440.9 L1058.7 443.82 L1058.7 448.5 L1054.61 451.43 L1043.3 451.43 M1043.3 435.05 L1039.2 432.12 L1039.2 427.44 L1043.3 424.52 L1054.61 424.52 L1058.7 427.44 L1058.7 432.12 L1054.61 435.05 L1043.3 435.05 M1043.3 418.67 L1039.2 415.75 L1039.2 411.06 L1043.3 408.14 L1054.61 408.14 L1058.7 411.06 L1058.7 415.75 L1054.61 418.67 L1043.3 418.67" fill="none" stroke="#333" stroke-width="1.1" stroke-linejoin="round" stroke-linecap="round"/>
<path d="M958.7 490.3 H962.3 V520.7 H958.7" fill="none" stroke="#333" stroke-width="1.2"/>
<path d="M976.36 526 L972.5 521.95 L991.8 521.95 M991.8 526 L991.8 519.05 M976.55 513.26 L972.5 510.37 L972.5 505.74 L976.55 502.84 L987.75 502.84 L991.8 505.74 L991.8 510.37 L987.75 513.26 L976.55 513.26 M976.55 497.05 L972.5 494.15 L972.5 489.52 L976.55 486.63 L987.75 486.63 L991.8 489.52 L991.8 494.15 L987.75 497.05 L976.55 497.05" fill="none" stroke="#333" stroke-width="1.1" stroke-linejoin="round" stroke-linecap="round"/>
<path d="M1134.5 526.8 H1149.9 V637.7 H1134.5" fill="none" stroke="#333" stroke-width="1.2"/>
<path d="M1162.63 606.1 L1159.1 602.38 L1159.1 596.5 L1163.8 593.36 L1168.7 595.71 L1174 593.36 L1178.7 596.5 L1178.7 602.38 L1175.37 606.1 M1168.7 595.71 L1168.7 599.44 M1162.82 587.28 L1159.1 584.54 L1159.1 577.88 L1163.22 574.35 L1165.18 574.35 L1168.7 577.88 L1168.7 584.15 L1172.62 587.48 L1177.72 587.48 L1178.7 586.7 L1178.7 574.35 M1163.22 568.47 L1159.1 565.53 L1159.1 560.82 L1163.22 557.88 L1174.58 557.88 L1178.7 560.82 L1178.7 565.53 L1174.58 568.47 L1163.22 568.47" fill="none" stroke="#333" stroke-width="1.1" stroke-linejoin="round" stroke-linecap="round"/>
<path d="M754.4 754.6 V777.4 H1102.1 V756.9" fill="none" stroke="#333" stroke-width="1.2"/>
<path d="M918.7 796.42 L922.71 792.6 L922.71 811.7 M918.7 811.7 L925.58 811.7 M931.31 796.61 L934.17 792.6 L938.75 792.6 L941.62 796.61 L941.62 807.69 L938.75 811.7 L934.17 811.7 L931.31 807.69 L931.31 796.61 M950.22 792.6 L957.86 792.6 L960.72 796.42 L960.72 798.33 L957.86 802.15 L950.22 802.15 L947.35 798.33 L947.35 796.42 L950.22 792.6 M950.22 802.15 L947.35 804.82 L947.35 808.64 L950.22 811.7 L957.86 811.7 L960.72 808.64 L960.72 804.82 L957.86 802.15 M966.45 796.61 L969.32 792.6 L973.9 792.6 L976.76 796.61 L976.76 807.69 L973.9 811.7 L969.32 811.7 L966.45 807.69 L966.45 796.61" fill="none" stroke="#333" stroke-width="1.1" stroke-linejoin="round" stroke-linecap="round"/>
<rect x="438.5" y="213.3" width="150.9" height="177.5" fill="none" stroke="#222" stroke-width="1.3"/>
<rect x="508.5" y="255.3" width="13" height="3.2" rx="1.2" fill="#bbb" stroke="#111" stroke-width="1"/>
<path d="M515 258.5 C513.8 268 516 278 514.4 288 C513.6 295 515.5 299 514.8 302" fill="none" stroke="#111" stroke-width="1.5"/>
<path d="M287.2 387 L299.2 396.3 H319.5" fill="none" stroke="#222" stroke-width="1.2"/>
<path d="M297.7 425.2 L320.2 444.3 H364.5" fill="none" stroke="#222" stroke-width="1.2"/>
<path d="M296.3 585.9 L350.4 530.9 H387.6" fill="none" stroke="#222" stroke-width="1.2"/>
<path d="M309.3 623 L350.4 578.6 H387.6" fill="none" stroke="#222" stroke-width="1.2"/>
<path d="M452.4 703.3 L484.5 676.2 H531.9" fill="none" stroke="#222" stroke-width="1.2"/>
<path d="M493 729.5 L518.3 718.5 H534.4" fill="none" stroke="#222" stroke-width="1.2"/>
<text transform="translate(320.2 400.2) scale(0.95 1.08)" font-size="18.5" font-family="Liberation Serif" font-weight="bold" stroke="#fff" stroke-width="0.1" style="font-family:'Liberation Serif'">1</text>
<text transform="translate(366.3 450.7) scale(0.9 1.05)" font-size="18" font-family="Liberation Serif" font-weight="bold" stroke="#fff" stroke-width="0.1" style="font-family:'Liberation Serif'">3</text>
<text transform="translate(402.8 538) scale(0.9 1.05)" font-size="18.5" font-family="Liberation Serif" font-weight="bold" stroke="#fff" stroke-width="0.1" style="font-family:'Liberation Serif'">4</text>
<text transform="translate(402.8 585.6) scale(0.9 1.05)" font-size="18.5" font-family="Liberation Serif" font-weight="bold" stroke="#fff" stroke-width="0.1" style="font-family:'Liberation Serif'">5</text>
<text transform="translate(540.8 683) scale(0.9 1.1)" font-size="18" font-family="Liberation Serif" font-weight="bold" stroke="#fff" stroke-width="0.1" style="font-family:'Liberation Serif'">6</text>
<text transform="translate(559.8 683) scale(0.86 1.1)" font-size="18" font-family="Liberation Serif" font-weight="bold" stroke="#fff" stroke-width="0.1" style="font-family:'Liberation Serif'">G9</text>
<text transform="translate(540.8 723.3) scale(0.9 1.1)" font-size="18" font-family="Liberation Serif" font-weight="bold" stroke="#fff" stroke-width="0.1" style="font-family:'Liberation Serif'">7</text><defs><clipPath id="gclip"><rect x="-20" y="-4.4" width="120" height="20"/></clipPath></defs>
<text transform="translate(134.5 204.8) scale(1 1.08)" font-size="10.8" font-weight="bold" stroke="#000" stroke-width="0.25" textLength="53.5" lengthAdjust="spacingAndGlyphs" clip-path="url(#gclip)">Ground wir</text>
<text transform="translate(101.5 238.7) scale(1 1.08)" font-size="10.8" font-weight="bold" stroke="#000" stroke-width="0.25" textLength="35.6" lengthAdjust="spacingAndGlyphs">Neutral</text>
<text transform="translate(190 238.7) scale(1 1.08)" font-size="10.8" font-weight="bold" stroke="#000" stroke-width="0.25" textLength="44.2" lengthAdjust="spacingAndGlyphs">Live wire</text>
<text transform="translate(101.8 303.8) scale(1 1.08)" font-size="10.8" font-weight="bold" stroke="#000" stroke-width="0.25" textLength="35.6" lengthAdjust="spacingAndGlyphs">Neutral</text>
<text transform="translate(190 303.8) scale(1 1.08)" font-size="10.8" font-weight="bold" stroke="#000" stroke-width="0.25" textLength="44.4" lengthAdjust="spacingAndGlyphs">Live wire</text>
<text transform="translate(129.6 337) scale(1 1.08)" font-size="10.8" font-weight="bold" stroke="#000" stroke-width="0.25" textLength="61.2" lengthAdjust="spacingAndGlyphs">Ground wire</text>
<text transform="translate(116.3 368.1) scale(1 1.08)" font-size="10.8" font-weight="bold" stroke="#000" stroke-width="0.25" textLength="80.6" lengthAdjust="spacingAndGlyphs">Live wire-Brown</text>
<text transform="translate(116.3 382.9) scale(1 1.08)" font-size="10.8" font-weight="bold" stroke="#000" stroke-width="0.25" textLength="88.2" lengthAdjust="spacingAndGlyphs">Neutral-Light grey</text>
<text transform="translate(116.3 401.9) scale(1 1.08)" font-size="10.8" font-weight="bold" stroke="#000" stroke-width="0.25" textLength="99.3" lengthAdjust="spacingAndGlyphs">Ground wire-Yellow</text>
<path d="M198.5 318.3 C196.5 320.5 194 322.5 188 322.5 H138.5 A16 16 0 0 1 122.5 306.5 V226.4 A16 16 0 0 1 138.5 210.4 H186.9 A16 16 0 0 1 202.9 226.4 V308.5" fill="none" stroke="#111" stroke-width="1.1" stroke-dasharray="13 1.6 1.6 1.6"/>
<path d="M198.5 318.3 C210 321 224 336 228.9 354" fill="none" stroke="#111" stroke-width="1.1" stroke-dasharray="4 1.5"/>
<path d="M202.8 308.5 C216 316 226 332 228.9 354" fill="none" stroke="#111" stroke-width="1.1" stroke-dasharray="4 1.5"/>
<path d="M221.8 345.4 L228.9 354 L230 341.6" fill="none" stroke="#111" stroke-width="1.1"/>
<path d="M138.5 217.5 C141 216 143 216.5 144 218 C147 224 148.5 229 148 235 L143.8 235 C144 230 142.5 224 138.5 217.5 Z" fill="#fff" stroke="#111" stroke-width="1"/>
<rect x="143.6" y="235" width="4" height="5.4" fill="#fff" stroke="#111" stroke-width="0.9"/>
<path d="M183.5 217.5 C181 216 179 216.5 178 218 C175 224 176 229 176.5 235 L180.5 235 C180 230 180.5 224 183.5 217.5 Z" fill="#fff" stroke="#111" stroke-width="1"/>
<rect x="176.5" y="235" width="4" height="5.4" fill="#fff" stroke="#111" stroke-width="0.9"/>
<defs><pattern id="hatch" width="2.2" height="2.2" patternUnits="userSpaceOnUse" patternTransform="rotate(40)"><rect width="2.2" height="1.1" fill="#222"/></pattern></defs>
<rect x="159.4" y="211" width="5.2" height="23.2" fill="url(#hatch)" stroke="#111" stroke-width="1"/>
<rect x="159.9" y="234.2" width="4.2" height="6.2" fill="#fff" stroke="#111" stroke-width="0.9"/>
<line x1="151.7" y1="219" x2="151.7" y2="232" stroke="#111" stroke-width="1"/>
<path d="M149.8 230 L151.7 240 L153.6 230 Z" fill="#111"/>
<line x1="169.6" y1="219" x2="169.6" y2="232" stroke="#111" stroke-width="1"/>
<path d="M167.7 230 L169.6 240 L171.5 230 Z" fill="#111"/>
<line x1="185.4" y1="219" x2="185.4" y2="232" stroke="#111" stroke-width="1"/>
<path d="M183.5 230 L185.4 240 L187.3 230 Z" fill="#111"/>
<circle cx="161.8" cy="248.3" r="5.8" fill="#fff" stroke="#111" stroke-width="1"/>
<path d="M161.8 242.5 V248.5 M157.8 248.5 H165.8 M158.8 250.6 H164.8 M159.9 252.5 H163.7" stroke="#111" stroke-width="0.9"/>
<circle cx="161.4" cy="312.7" r="6" fill="#fff" stroke="#111" stroke-width="1"/>
<path d="M159.5 307.6 H163.3 M158.8 309.6 H164 M157.6 311.6 H165.2 M161.4 311.6 V318.5" stroke="#111" stroke-width="0.9"/>
<rect x="138.5" y="256.3" width="13.3" height="35.5" fill="#fff" stroke="#333" stroke-width="1.1"/>
<rect x="139.8" y="257.6" width="10.7" height="33" fill="none" stroke="#bbb" stroke-width="0.5"/>
<circle cx="145.15" cy="266.2" r="5.6" fill="#fff" stroke="#111" stroke-width="1.9"/>
<path d="M143.35 261.2 V271.2 M146.95 261.2 V271.2" stroke="#111" stroke-width="0.8"/>
<circle cx="145.15" cy="281.4" r="5.6" fill="#fff" stroke="#111" stroke-width="1.9"/>
<path d="M143.35 276.4 V286.4 M146.95 276.4 V286.4" stroke="#111" stroke-width="0.8"/>
<rect x="155.3" y="256.3" width="13.3" height="35.5" fill="#fff" stroke="#333" stroke-width="1.1"/>
<rect x="156.6" y="257.6" width="10.7" height="33" fill="none" stroke="#bbb" stroke-width="0.5"/>
<circle cx="161.95" cy="266.2" r="5.6" fill="#fff" stroke="#111" stroke-width="1.9"/>
<path d="M160.15 261.2 V271.2 M163.75 261.2 V271.2" stroke="#111" stroke-width="0.8"/>
<circle cx="161.95" cy="281.4" r="5.6" fill="#fff" stroke="#111" stroke-width="1.9"/>
<path d="M160.15 276.4 V286.4 M163.75 276.4 V286.4" stroke="#111" stroke-width="0.8"/>
<rect x="170.8" y="256.3" width="13.3" height="35.5" fill="#fff" stroke="#333" stroke-width="1.1"/>
<rect x="172.1" y="257.6" width="10.7" height="33" fill="none" stroke="#bbb" stroke-width="0.5"/>
<circle cx="177.45" cy="266.2" r="5.6" fill="#fff" stroke="#111" stroke-width="1.9"/>
<path d="M175.65 261.2 V271.2 M179.25 261.2 V271.2" stroke="#111" stroke-width="0.8"/>
<circle cx="177.45" cy="281.4" r="5.6" fill="#fff" stroke="#111" stroke-width="1.9"/>
<path d="M175.65 276.4 V286.4 M179.25 276.4 V286.4" stroke="#111" stroke-width="0.8"/>
<path d="M143.6 292 L147.6 292 C147.8 297 147 302 145.8 306 C144.5 306.8 143 306.5 141.8 305.5 C143 301 143.6 297 143.6 292 Z" fill="#fff" stroke="#111" stroke-width="1"/>
<path d="M159.3 292 H163.5 V303.7 C162 304.6 160.6 304.6 159.3 303.7 Z" fill="#fff" stroke="#111" stroke-width="1"/>
<path d="M174.8 292 L178.8 292 C178.6 297 179 301 181.2 305.2 C180 306.5 178.5 306.6 177.2 305.8 C175.6 301.5 174.8 297 174.8 292 Z" fill="#fff" stroke="#111" stroke-width="1"/>
<path d="M227.64 359.14 L229.66 356.4 L234.56 356.4 L237.15 359.42 L237.15 360.86 L234.56 363.46 L229.95 363.46 L227.5 366.34 L227.5 370.08 L228.08 370.8 L237.15 370.8" fill="none" stroke="#222" stroke-width="1.1" stroke-linejoin="round" stroke-linecap="round"/>
<ellipse cx="226.7" cy="382" rx="4.2" ry="6.2" fill="#fff" stroke="#666" stroke-width="1.3"/>
<path d="M224.7 379 h4 M224.2 382 h5 M224.7 385 h4" stroke="#777" stroke-width="1"/>
<ellipse cx="233.7" cy="383" rx="4.2" ry="6.2" fill="#fff" stroke="#666" stroke-width="1.3"/>
<path d="M231.7 380 h4 M231.2 383 h5 M231.7 386 h4" stroke="#777" stroke-width="1"/>
<ellipse cx="240.7" cy="384.3" rx="4.2" ry="6.2" fill="#fff" stroke="#666" stroke-width="1.3"/>
<path d="M238.7 381.3 h4 M238.2 384.3 h5 M238.7 387.3 h4" stroke="#777" stroke-width="1"/>
<path d="M224.5 389 C224 400 240 410 266.5 411 M231 390 C231 400 244 408 265 409.5 M238 391 C238 398 246 404 258 406" fill="none" stroke="#aaa" stroke-width="1"/>
<path d="M244 405.3 C252 409 259 411 265.3 408.3" fill="none" stroke="#222" stroke-width="1"/>
<path d="M278.3 383.5 L283.8 382.6 L287.9 391.8 L282.6 392.8 Z" fill="#fff" stroke="#111" stroke-width="1.6"/>
<path d="M279.9 390 V395.5 M285.3 393 V400" stroke="#333" stroke-width="0.9"/>
<ellipse cx="282.2" cy="398.4" rx="1.7" ry="1.2" fill="#111"/>
<path d="M283 407 C284 403 287 402.5 288.5 403.5 M279.5 406.5 L280.5 406.7" fill="none" stroke="#111" stroke-width="1.2"/>
<path d="M286 400.5 L290.5 400 M287 403 H292 M287 405.5 H292 M286.5 408 H292" stroke="#aaa" stroke-width="0.7"/>
<path d="M280.5 414 V410.5 H291.8 V414" fill="none" stroke="#555" stroke-width="0.9"/>
<line x1="282.2" y1="398" x2="282.2" y2="414" stroke="#333" stroke-width="0.9"/><circle cx="471" cy="734.7" r="21.7" fill="#fff" stroke="#111" stroke-width="1.15"/>
<g transform="translate(458.3 723.5) rotate(-42)"><rect x="-5" y="-3.8" width="10" height="7.6" fill="#111"/><rect x="-1.2" y="-2.4" width="2.4" height="4.8" fill="#fff"/></g>
<g transform="translate(434.1 703.9) rotate(40)">
<path d="M-1.5 -15 C4.5 -9 5 9 -2.5 15 C1 9 0.5 -9 -1.5 -15 Z" fill="#111" stroke="#111" stroke-width="0.6"/>
<rect x="-5.5" y="-5" width="10" height="10" fill="#111"/>
<rect x="-3.6" y="-2.6" width="6.4" height="1.5" fill="#fff"/>
<rect x="-3.6" y="1.1" width="6.4" height="1.5" fill="#fff"/>
</g>
<g transform="translate(441.5 709.2) rotate(40)"><rect x="-1" y="-2" width="7" height="4" fill="#111"/><rect x="1" y="-0.8" width="1.6" height="1.6" fill="#fff"/><rect x="3.6" y="-0.8" width="1.6" height="1.6" fill="#fff"/><path d="M6 -1.8 H9 C11.5 -1.8 11.5 1.8 9 1.8 H6 Z" fill="#fff" stroke="#666" stroke-width="0.8"/></g>
<g transform="translate(437.5 720.5) rotate(40)"><path d="M-4.5 0 L-1 -2.6 V-1 H4 V1 H-1 V2.6 Z" fill="#fff" stroke="#111" stroke-width="0.9"/></g>
<g transform="translate(513.5 768) rotate(40)"><path d="M-11.5 0 L-4.5 -5.8 V-2.2 H11 V2.2 H-4.5 V5.8 Z" fill="#fff" stroke="#111" stroke-width="1.1"/></g>
<ellipse cx="526.5" cy="778" rx="5.2" ry="2.4" transform="rotate(-55 526.5 778)" fill="none" stroke="#111" stroke-width="1.1" stroke-dasharray="13 3"/>
</svg>

</body></html>
